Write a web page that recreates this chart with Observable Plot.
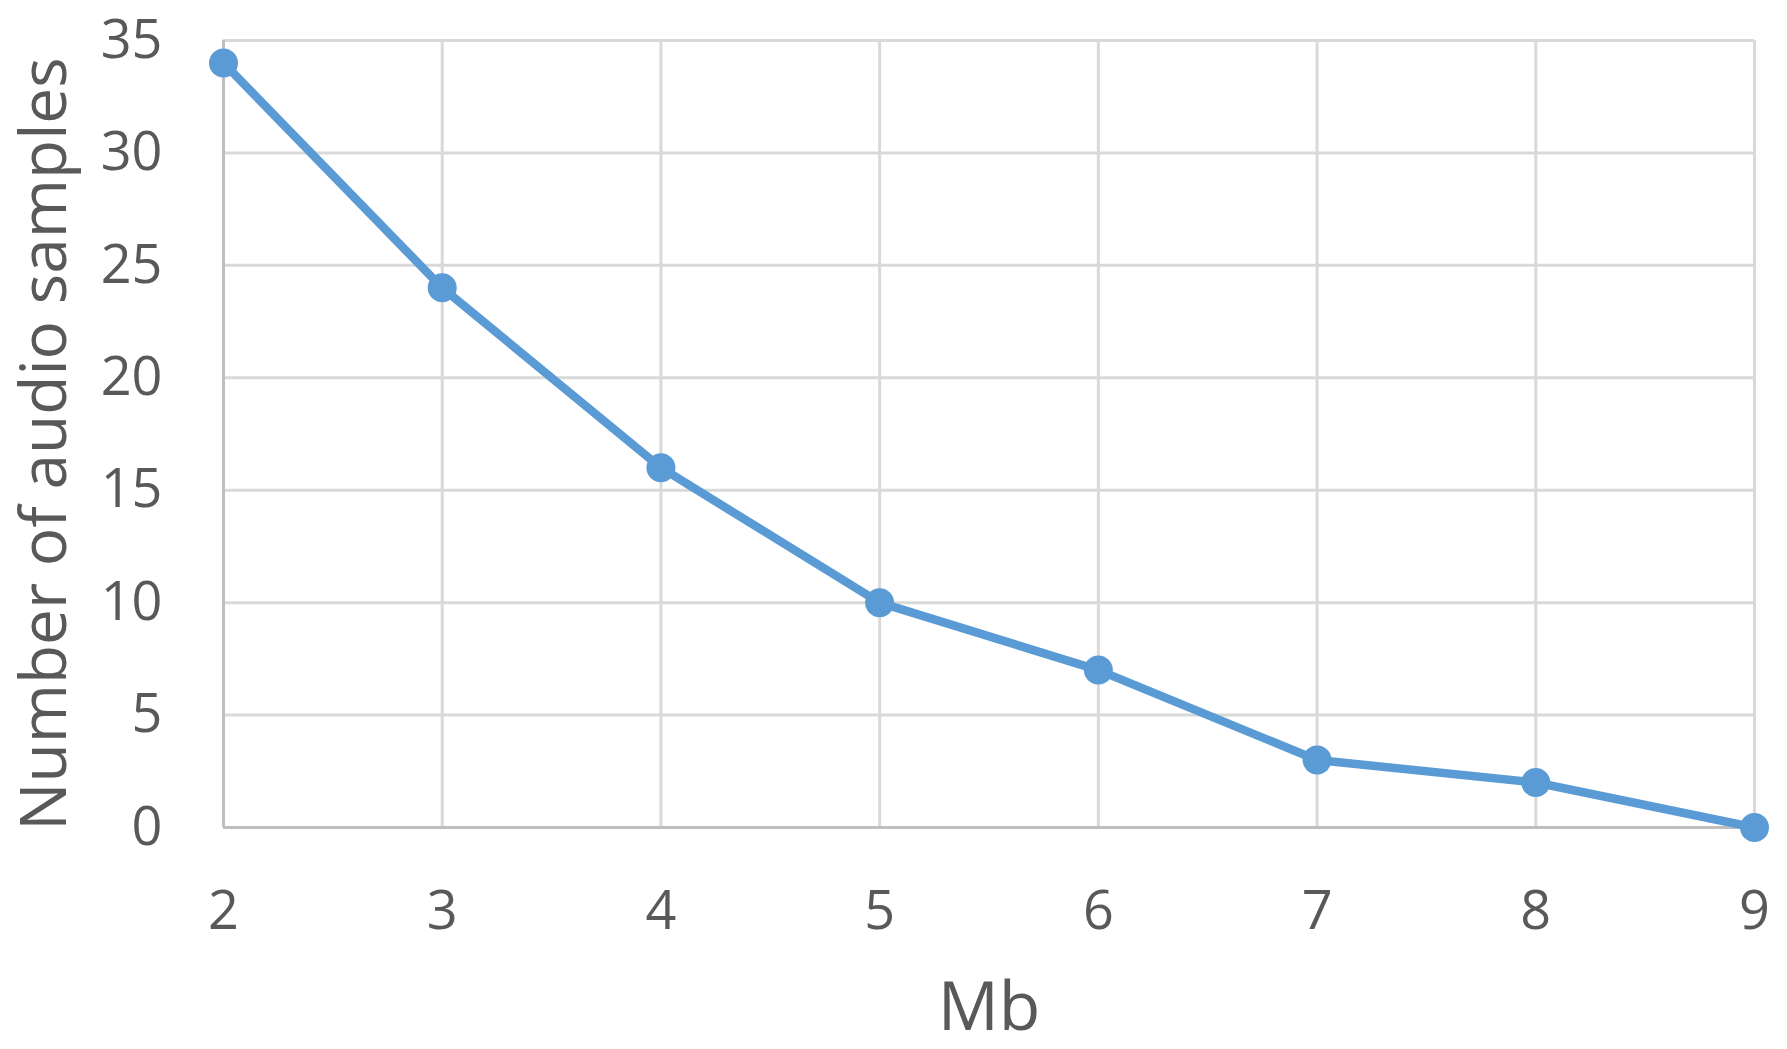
<!DOCTYPE html>
<html>
<head>
<meta charset="utf-8">
<script src="https://cdn.jsdelivr.net/npm/d3@7"></script>
<script src="https://cdn.jsdelivr.net/npm/@observablehq/plot@0.6"></script>
<style>
  html, body { margin: 0; padding: 0; background: #fff; }
  #chart svg { display: block; }
</style>
</head>
<body>
<div id="chart"></div>
<script>
const mb = [2, 3, 4, 5, 6, 7, 8, 9];
const samples = [34, 24, 16, 10, 7, 3, 2, 0];
const xTicks = [2, 3, 4, 5, 6, 7, 8, 9];
const yTicks = [0, 5, 10, 15, 20, 25, 30, 35];
const xLabel = "Mb";
const yLabel = "Number of audio samples";

const data = mb.map((m, i) => ({ mb: m, n: samples[i] }));
const font = "Open Sans, sans-serif";
const textColor = "#595959";

const chart = Plot.plot({
  width: 1787,
  height: 1049,
  marginLeft: 223,
  marginRight: 33,
  marginTop: 40,
  marginBottom: 222,
  style: { fontFamily: font, color: textColor, background: "#fff" },
  x: { domain: [2, 9] },
  y: { domain: [0, 35] },
  marks: [
    Plot.gridY(yTicks, { stroke: "#d9d9d9", strokeWidth: 3, strokeOpacity: 1 }),
    Plot.gridX(xTicks, { stroke: "#d9d9d9", strokeWidth: 3, strokeOpacity: 1 }),
    Plot.ruleX([2], { stroke: "#bfbfbf", strokeWidth: 3 }),
    Plot.ruleY([0], { stroke: "#bfbfbf", strokeWidth: 3 }),
    Plot.axisY(yTicks, { tickSize: 0, tickPadding: 61, fontSize: 54, fill: textColor, label: null, tickFormat: "d" }),
    Plot.axisX(xTicks, { tickSize: 0, tickPadding: 63, fontSize: 54, fill: textColor, label: null, tickFormat: "d" }),
    Plot.line(data, { x: "mb", y: "n", stroke: "#5b9bd5", strokeWidth: 8.5 }),
    Plot.dot(data, { x: "mb", y: "n", r: 14.5, fill: "#5b9bd5", stroke: "none" }),
    Plot.text([yLabel], { frameAnchor: "left", dx: -178, dy: 10, rotate: -90, fontSize: 64, fill: textColor, textAnchor: "middle", lineAnchor: "middle" }),
    Plot.text([xLabel], { frameAnchor: "bottom", dy: 181, fontSize: 68, fill: textColor, textAnchor: "middle", lineAnchor: "middle" })
  ]
});
document.getElementById("chart").appendChild(chart);
</script>
</body>
</html>
